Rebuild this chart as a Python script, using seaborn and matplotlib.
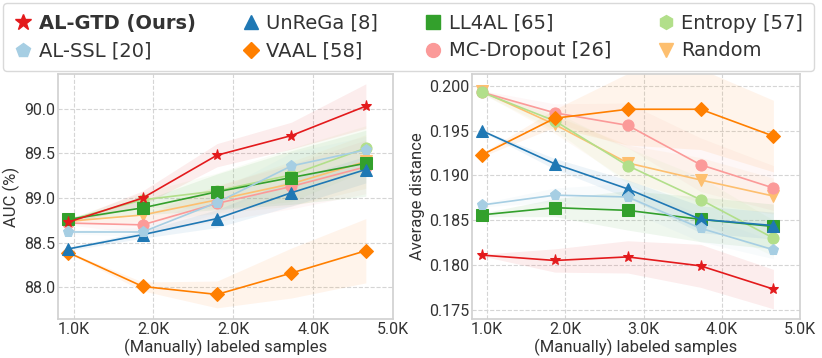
"""
Two-panel active-learning comparison: AUC and average distance against the
number of (manually) labeled samples, one line per method with a shaded
spread band.  Saves the figure as out.png.
"""

import matplotlib.pyplot as plt
import matplotlib.lines as mlines
import seaborn as sns


# Labeled sample counts (x positions of the five AL cycles).
SAMPLES = [932, 1864, 2796, 3728, 4660]

# Tick labels as printed on the original figure.
TICKS = [1000, 2000, 3000, 4000, 5000]
LEFT_TICK_LABELS = ["1.0K", "2.0K", "2.0K", "4.0K", "5.0K"]
RIGHT_TICK_LABELS = ["1.0K", "2.0K", "3.0K", "4.0K", "5.0K"]

METHODS = ["Random", "MC-Dropout [26]", "Entropy [57]", "LL4AL [65]",
           "VAAL [58]", "UnReGa [8]", "AL-SSL [20]", "AL-GTD (Ours)"]

# AUC (%) per method.
auc_gtd = [88.73, 89.00, 89.48, 89.70, 90.03]
auc_ssl = [88.62, 88.62, 88.95, 89.36, 89.54]
auc_unrega = [88.43, 88.59, 88.77, 89.06, 89.32]
auc_vaal = [88.39, 88.01, 87.92, 88.16, 88.41]
auc_ll4al = [88.76, 88.89, 89.07, 89.23, 89.39]
auc_mcd = [88.72, 88.70, 88.94, 89.13, 89.35]
auc_entropy = [88.75, 88.98, 89.08, 89.26, 89.56]
auc_random = [88.74, 88.81, 88.98, 89.16, 89.41]

# AUC spread (one standard deviation).
auc_gtd_sd = [0.02, 0.08, 0.13, 0.15, 0.25]
auc_ssl_sd = [0.02, 0.05, 0.12, 0.15, 0.15]
auc_unrega_sd = [0.02, 0.04, 0.10, 0.15, 0.15]
auc_vaal_sd = [0.01, 0.05, 0.15, 0.28, 0.36]
auc_ll4al_sd = [0.02, 0.08, 0.20, 0.30, 0.37]
auc_mcd_sd = [0.02, 0.10, 0.20, 0.25, 0.30]
auc_entropy_sd = [0.02, 0.08, 0.20, 0.30, 0.25]
auc_random_sd = [0.02, 0.08, 0.15, 0.25, 0.30]

# Average distance per method.
dist_gtd = [0.1811, 0.1805, 0.1809, 0.1799, 0.1773]
dist_ssl = [0.1867, 0.1878, 0.1876, 0.1841, 0.1817]
dist_unrega = [0.1950, 0.1913, 0.1885, 0.1851, 0.1844]
dist_vaal = [0.1923, 0.1964, 0.1974, 0.1974, 0.1944]
dist_ll4al = [0.1856, 0.1864, 0.1861, 0.1851, 0.1843]
dist_mcd = [0.1993, 0.1970, 0.1956, 0.1912, 0.1886]
dist_entropy = [0.1993, 0.1961, 0.1911, 0.1873, 0.1830]
dist_random = [0.1994, 0.1957, 0.1914, 0.1895, 0.1877]

# Average distance spread.
dist_gtd_sd = [0.0001, 0.0013, 0.0018, 0.0024, 0.0022]
dist_ssl_sd = [0.0002, 0.0008, 0.0015, 0.0015, 0.0010]
dist_unrega_sd = [0.0001, 0.0006, 0.0010, 0.0015, 0.0015]
dist_vaal_sd = [0.0002, 0.0010, 0.0040, 0.0045, 0.0040]
dist_ll4al_sd = [0.0002, 0.0010, 0.0022, 0.0025, 0.0025]
dist_mcd_sd = [0.0002, 0.0010, 0.0025, 0.0030, 0.0025]
dist_entropy_sd = [0.0002, 0.0010, 0.0020, 0.0025, 0.0020]
dist_random_sd = [0.0002, 0.0010, 0.0020, 0.0025, 0.0020]

AUC = [auc_random, auc_mcd, auc_entropy, auc_ll4al,
       auc_vaal, auc_unrega, auc_ssl, auc_gtd]
AUC_SD = [auc_random_sd, auc_mcd_sd, auc_entropy_sd, auc_ll4al_sd,
          auc_vaal_sd, auc_unrega_sd, auc_ssl_sd, auc_gtd_sd]
DIST = [dist_random, dist_mcd, dist_entropy, dist_ll4al,
        dist_vaal, dist_unrega, dist_ssl, dist_gtd]
DIST_SD = [dist_random_sd, dist_mcd_sd, dist_entropy_sd, dist_ll4al_sd,
           dist_vaal_sd, dist_unrega_sd, dist_ssl_sd, dist_gtd_sd]

pal = sns.color_palette("Paired")
STYLE = {
    "Random": (pal[6], "v", 8),
    "MC-Dropout [26]": (pal[4], "o", 8),
    "Entropy [57]": (pal[2], "o", 8),
    "LL4AL [65]": (pal[3], "s", 8),
    "VAAL [58]": (pal[7], "D", 7.5),
    "UnReGa [8]": (pal[1], "^", 8),
    "AL-SSL [20]": (pal[0], "p", 8),
    "AL-GTD (Ours)": (pal[5], "*", 8),
}
# Legend handles are a little larger than the plot markers.
LEGEND_MARKER = {"Entropy [57]": ("h", 10), "VAAL [58]": ("D", 8),
                 "AL-GTD (Ours)": ("*", 12)}
LEGEND_ORDER = ["AL-GTD (Ours)", "AL-SSL [20]", "UnReGa [8]", "VAAL [58]",
                "LL4AL [65]", "MC-Dropout [26]", "Entropy [57]", "Random"]


def draw_panel(ax, values, spreads, ylabel, ylim, yticks, yfmt, xlabels):
    for name, y, sd in zip(METHODS, values, spreads):
        color, marker, ms = STYLE[name]
        lo = [v - s for v, s in zip(y, sd)]
        hi = [v + s for v, s in zip(y, sd)]
        ax.fill_between(SAMPLES, lo, hi, color=color, alpha=0.08, lw=0)
        sns.lineplot(x=SAMPLES, y=y, ax=ax, color=color, marker=marker,
                     markersize=ms, markeredgecolor=color, lw=1.2)
    ax.set_xlim(805, 5000)
    ax.set_xticks(TICKS)
    ax.set_xticklabels(xlabels)
    ax.set_ylim(*ylim)
    ax.set_yticks(yticks)
    ax.set_yticklabels([yfmt.format(t) for t in yticks])
    ax.set_xlabel("(Manually) labeled samples", labelpad=1.5, fontsize=12)
    ax.set_ylabel(ylabel, labelpad=3, fontsize=12)
    ax.tick_params(length=0, pad=2, labelsize=11.5)


sns.set_theme(style="whitegrid", rc={
    "grid.linestyle": "--",
    "grid.color": "#d5d5d5",
    "grid.linewidth": 0.8,
    "axes.edgecolor": "#d0d0d0",
    "axes.linewidth": 1.2,
    "text.color": "#333333",
    "axes.labelcolor": "#333333",
    "xtick.color": "#333333",
    "ytick.color": "#333333",
})
plt.rcParams["font.family"] = ["Roboto", "DejaVu Sans"]

fig = plt.figure(figsize=(8.22, 3.58), dpi=100)
ax_l = fig.add_axes([58 / 822, 39 / 358, 335 / 822, 245 / 358])
ax_r = fig.add_axes([472 / 822, 39 / 358, 328 / 822, 245 / 358])

draw_panel(ax_l, AUC, AUC_SD, "AUC (%)", (87.645, 90.39),
           [88.0, 88.5, 89.0, 89.5, 90.0], "{:.1f}", LEFT_TICK_LABELS)
draw_panel(ax_r, DIST, DIST_SD, "Average distance", (0.17396, 0.20134),
           [0.175, 0.180, 0.185, 0.190, 0.195, 0.200], "{:.3f}",
           RIGHT_TICK_LABELS)

handles = []
for name in LEGEND_ORDER:
    color, marker, _ = STYLE[name]
    lmarker, lsize = LEGEND_MARKER.get(name, (marker, 10))
    handles.append(mlines.Line2D(
        [], [], color=color, marker=lmarker, linestyle="None",
        markersize=lsize, label=name))
leg = fig.legend(handles=handles, ncol=4, loc="upper left",
                 bbox_to_anchor=(3 / 822, 1 - 3 / 358, 811 / 822, 0.0),
                 mode="expand", prop={"family": "DejaVu Sans", "size": 14},
                 frameon=True, handletextpad=0.3, handlelength=1.0,
                 borderpad=0.55, labelspacing=0.45, borderaxespad=0)
leg.get_frame().set_edgecolor("#d0d0d0")
leg.get_texts()[0].set_fontweight("bold")

fig.savefig("out.png", dpi=100)
